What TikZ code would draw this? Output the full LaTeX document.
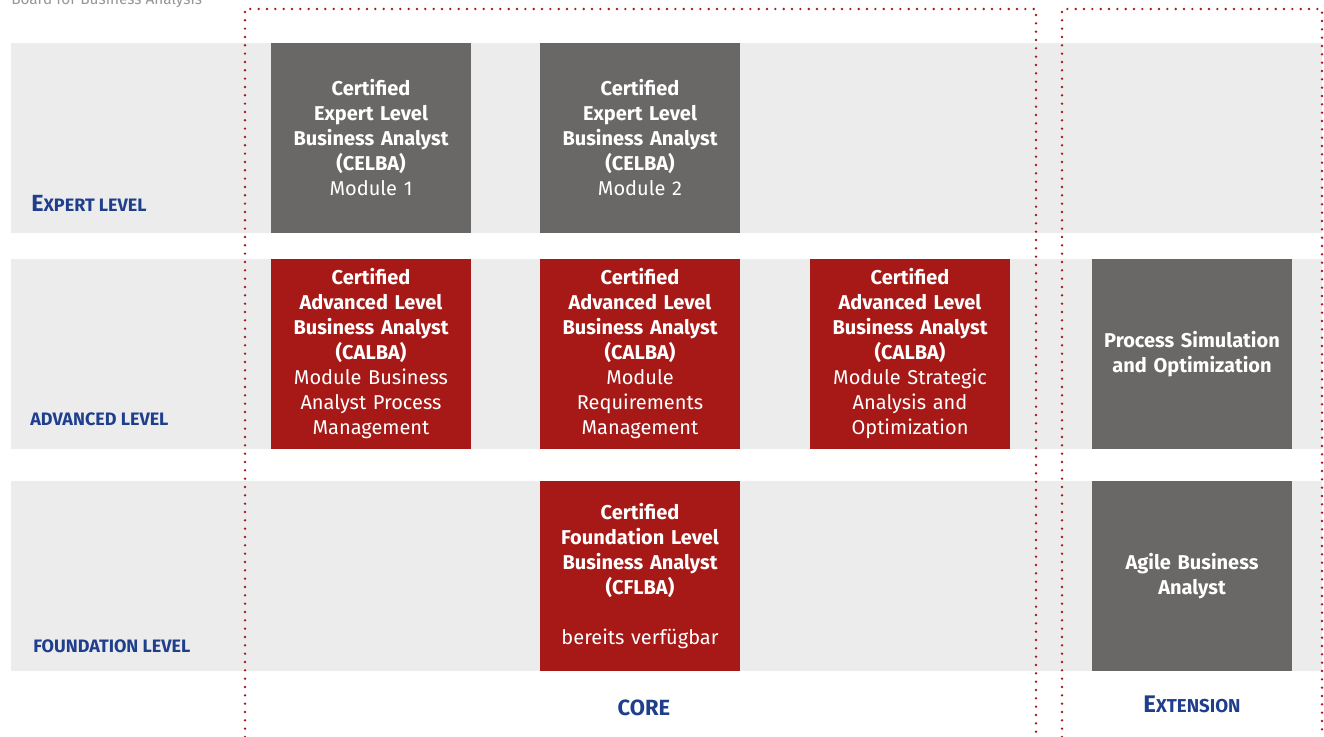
\documentclass[tikz,border=0pt]{standalone}
\usepackage{fontspec}
\setmainfont{Fira Sans}
\usepackage{tikz}
\definecolor{corered}{RGB}{166,25,22}
\definecolor{boxgrey}{RGB}{106,104,102}
\definecolor{bandgrey}{RGB}{236,236,236}
\definecolor{labelblue}{RGB}{31,63,140}
\definecolor{topgrey}{RGB}{150,150,150}

\begin{document}
\begin{tikzpicture}[x=0.75pt,y=-0.75pt]
    \tikzset{module/.style = {shape=rectangle, fill=boxgrey, text=white, minimum width=150pt, minimum height=142.5pt, inner sep=0pt, text width=148pt, align=center, font=\fontsize{15}{18.75}\selectfont}}
    \tikzset{level/.style = {anchor=base west, inner sep=0pt, text=labelblue, font=\bfseries\fontsize{13.5}{13.5}\selectfont}}
    \tikzset{dotline/.style = {draw=corered, line width=2pt, line cap=round, dash pattern=on 0pt off 6.25pt}}

    \useasboundingbox (0,0) rectangle (1324,737);
    \clip (0,0) rectangle (1324,737);

    % bands
    \fill[bandgrey] (11,43) rectangle (1322,233);
    \fill[bandgrey] (11,259) rectangle (1322,449);
    \fill[bandgrey] (11,481) rectangle (1322,671);

    \node[anchor=base west, inner sep=0pt, text=topgrey, font=\fontsize{11.5}{11.5}\selectfont] (board) at (11,5) {Board for Business Analysis};

    % levels
    \node[level] (expert) at (31,212) {{\fontsize{17.5}{17.5}\selectfont E}XPERT LEVEL};
    \node[level] (advanced) at (30,426) {ADVANCED LEVEL};
    \node[level] (foundation) at (33,652) {FOUNDATION LEVEL};

    % modules
    \node[module] (celba1) at (371,138) {{\bfseries Certified\\Expert Level\\Business Analyst\\(CELBA)}\\Module 1};
    \node[module] (celba2) at (640,138) {{\bfseries Certified\\Expert Level\\Business Analyst\\(CELBA)}\\Module 2};
    \node[module, fill=corered] (calba1) at (371,354) {{\bfseries Certified\\Advanced Level\\Business Analyst\\(CALBA)}\\Module Business\\Analyst Process\\Management};
    \node[module, fill=corered] (calba2) at (640,354) {{\bfseries Certified\\Advanced Level\\Business Analyst\\(CALBA)}\\Module\\Requirements\\Management};
    \node[module, fill=corered] (calba3) at (910,354) {{\bfseries Certified\\Advanced Level\\Business Analyst\\(CALBA)}\\Module Strategic\\Analysis and\\Optimization};
    \node[module, fill=corered] (cflba) at (640,576) {{\bfseries Certified\\Foundation Level\\Business Analyst\\(CFLBA)}\\[18.75pt]bereits verfügbar};
    \node[module] (procsim) at (1192,354) {\bfseries Process Simulation\\and Optimization};
    \node[module] (agile) at (1192,576) {\bfseries Agile Business\\Analyst};

    % frames
    \draw[dotline] (245,737) -- (245,9) -- (1036,9) -- (1036,737);
    \draw[dotline] (1062,737) -- (1062,9) -- (1322,9) -- (1322,737);
    \node[anchor=base, inner sep=0pt, text=labelblue, font=\bfseries\fontsize{16.5}{16.5}\selectfont] (core) at (644,715) {CORE};
    \node[anchor=base, inner sep=0pt, text=labelblue, font=\bfseries\fontsize{14}{14}\selectfont] (extension) at (1192,712) {{\fontsize{18}{18}\selectfont E}XTENSION};
\end{tikzpicture}
\end{document}
